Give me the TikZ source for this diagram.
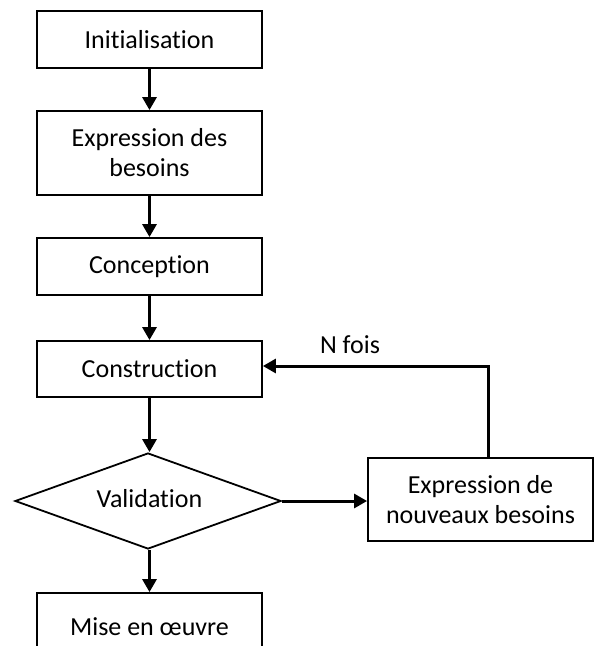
\documentclass[tikz,border=0pt]{standalone}
\usepackage{fontspec}
\setmainfont{Carlito}[Ligatures={NoCommon},RawFeature={-liga;-clig;-dlig}]
\usetikzlibrary{arrows.meta,shapes.geometric}
\begin{document}
\begin{tikzpicture}[x=1pt,y=-1pt,
  font=\fontsize{26}{30}\selectfont,
  box/.style={draw,line width=1.8pt,rectangle,minimum width=225pt,inner sep=0pt,align=center},
  dec/.style={draw,line width=1.8pt,diamond,aspect=2.77,minimum width=266pt,minimum height=96pt,inner sep=0pt},
  flow/.style={line width=3pt,-{Triangle[width=14pt,length=13pt]}}]
\useasboundingbox (0,0) rectangle (594,646);
\node[box,minimum height=57pt] (init) at (149.5,39.5) {Initialisation};
\node[box,minimum height=84pt] (expr) at (149.5,153) {Expression des\\besoins};
\node[box,minimum height=57pt] (conc) at (149.5,266.5) {Conception};
\node[box,minimum height=56pt] (constr) at (149.5,369) {Construction};
\node[dec] (valid) at (148,501) {};
\node at (149.5,499) {Validation};
\node[box,minimum height=83pt] (newb) at (480.5,499.5) {Expression de\\nouveaux besoins};
\node[box,minimum height=68pt] (mise) at (149.5,627) {Mise en œuvre};
\node (nfois) at (350,345) {N fois};
\coordinate (turn) at (488,366);
\draw[flow] (init) -- (expr);
\draw[flow] (expr) -- (conc);
\draw[flow] (conc) -- (constr);
\draw[flow] (constr.south) -- (constr.south |- valid.north);
\draw[flow] (valid.south -| constr.south) -- (mise);
\draw[flow] (valid.east) -- (newb.west |- valid.east);
\draw[flow] (newb.north -| turn) -- (turn) -- (turn -| constr.east);
\end{tikzpicture}
\end{document}
